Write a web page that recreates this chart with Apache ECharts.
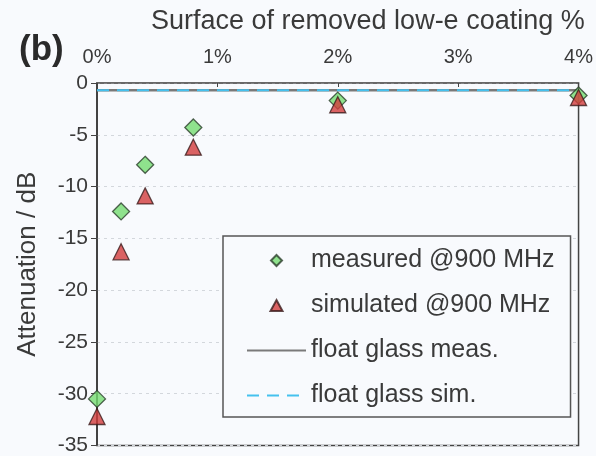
<!DOCTYPE html>
<html>
<head>
<meta charset="utf-8">
<script src="https://cdn.jsdelivr.net/npm/echarts@6/dist/echarts.min.js"></script>
<style>
html,body{margin:0;padding:0;background:#f8fafd;}
#c{width:596px;height:456px;}
</style>
</head>
<body>
<div id="c"></div>
<script>
var coverage = [0, 0.2, 0.4, 0.8, 2, 4];
var measured = [-30.5, -12.4, -7.9, -4.3, -1.7, -1.2];
var simulated = [-32.2, -16.3, -10.9, -6.2, -2.1, -1.4];
var floatGlassMeas = -0.7;
var floatGlassSim = -0.7;
var xRange = [0, 4];
var seriesNames = ['measured @900 MHz', 'simulated @900 MHz', 'float glass meas.', 'float glass sim.'];

function pairs(xs, ys) { return xs.map(function (x, i) { return [x, ys[i]]; }); }

var font = '"Liberation Sans", Arial, sans-serif';
var hidden = 'rgba(0,0,0,0)';
// legend icons: small marker centred in a wide (59x12) box
var diamondIcon = 'path://M0,0M59,12M29.5,0.5L35,6L29.5,11.5L24,6Z';
var triangleIcon = 'path://M0,0M59,12M29.5,0.5L35.5,11.5L23.5,11.5Z';
var chart = echarts.init(document.getElementById('c'), null, {renderer: 'canvas'});
chart.setOption({
  backgroundColor: '#f8fafd',
  animation: false,
  title: {
    text: 'Surface of removed low-e coating %',
    left: 151, top: 8, padding: 0,
    textStyle: {fontFamily: font, fontSize: 27, fontWeight: 'normal', color: '#3a3a3a'}
  },
  graphic: [{
    type: 'text', left: 19, top: 33,
    style: {text: '(b)', font: 'bold 35px ' + font, fill: '#2a2a2a'}
  }],
  grid: {
    left: 97, right: 8, top: 83, bottom: 7,
    show: true, borderColor: '#444', borderWidth: 1.5, backgroundColor: 'transparent'
  },
  xAxis: {
    type: 'value', position: 'top', min: xRange[0], max: xRange[1], interval: 1,
    axisLine: {show: true, onZero: false, lineStyle: {color: '#666', width: 1.5}},
    axisTick: {show: true, inside: true, length: 4, lineStyle: {color: '#444'}},
    axisLabel: {formatter: '{value}%', fontFamily: font, fontSize: 20, color: '#3a3a3a', margin: 16},
    splitLine: {show: false}
  },
  yAxis: {
    type: 'value', min: -35, max: 0, interval: 5,
    name: 'Attenuation / dB', nameLocation: 'middle', nameGap: 56,
    nameTextStyle: {fontFamily: font, fontSize: 26, color: '#3a3a3a'},
    axisLine: {show: true, onZero: false, lineStyle: {color: '#333', width: 1.5}},
    axisTick: {show: true, inside: false, length: 6, lineStyle: {color: '#444'}},
    axisLabel: {fontFamily: font, fontSize: 21, color: '#3a3a3a', margin: 9},
    splitLine: {show: true, lineStyle: {type: [3, 4], color: '#d3d7dc', width: 1}}
  },
  legend: {
    data: [
      {name: seriesNames[0], icon: diamondIcon},
      {name: seriesNames[1], icon: triangleIcon},
      {name: seriesNames[2]},
      {name: seriesNames[3]}
    ],
    orient: 'vertical', left: 223, top: 236,
    padding: [12, 16, 9, 23], itemGap: 20,
    itemWidth: 59, itemHeight: 12,
    backgroundColor: '#f8fafd', borderColor: '#555', borderWidth: 1.5,
    textStyle: {fontFamily: font, fontSize: 25, color: '#3a3a3a', lineHeight: 24}
  },
  series: [
    {
      name: seriesNames[2], type: 'line', symbol: 'none', z: 2,
      data: [[xRange[0], floatGlassMeas], [xRange[1], floatGlassMeas]],
      itemStyle: {color: hidden, borderColor: hidden},
      lineStyle: {color: '#7a7a7a', width: 2.5}
    },
    {
      name: seriesNames[3], type: 'line', symbol: 'none', z: 3,
      data: [[xRange[0], floatGlassSim], [xRange[1], floatGlassSim]],
      itemStyle: {color: hidden, borderColor: hidden},
      lineStyle: {color: '#45c1ee', width: 2, type: [12, 8]}
    },
    {
      name: seriesNames[0], type: 'scatter', symbol: 'diamond', symbolSize: 17, z: 4,
      data: pairs(coverage, measured),
      itemStyle: {color: '#74dc70', borderColor: '#2b3d2b', borderWidth: 1.3}
    },
    {
      name: seriesNames[1], type: 'scatter', symbol: 'triangle', symbolSize: [16, 16], z: 5,
      data: pairs(coverage, simulated),
      itemStyle: {color: '#d23c3c', borderColor: '#3a1c1c', borderWidth: 1.3}
    }
  ]
});
</script>
</body>
</html>
